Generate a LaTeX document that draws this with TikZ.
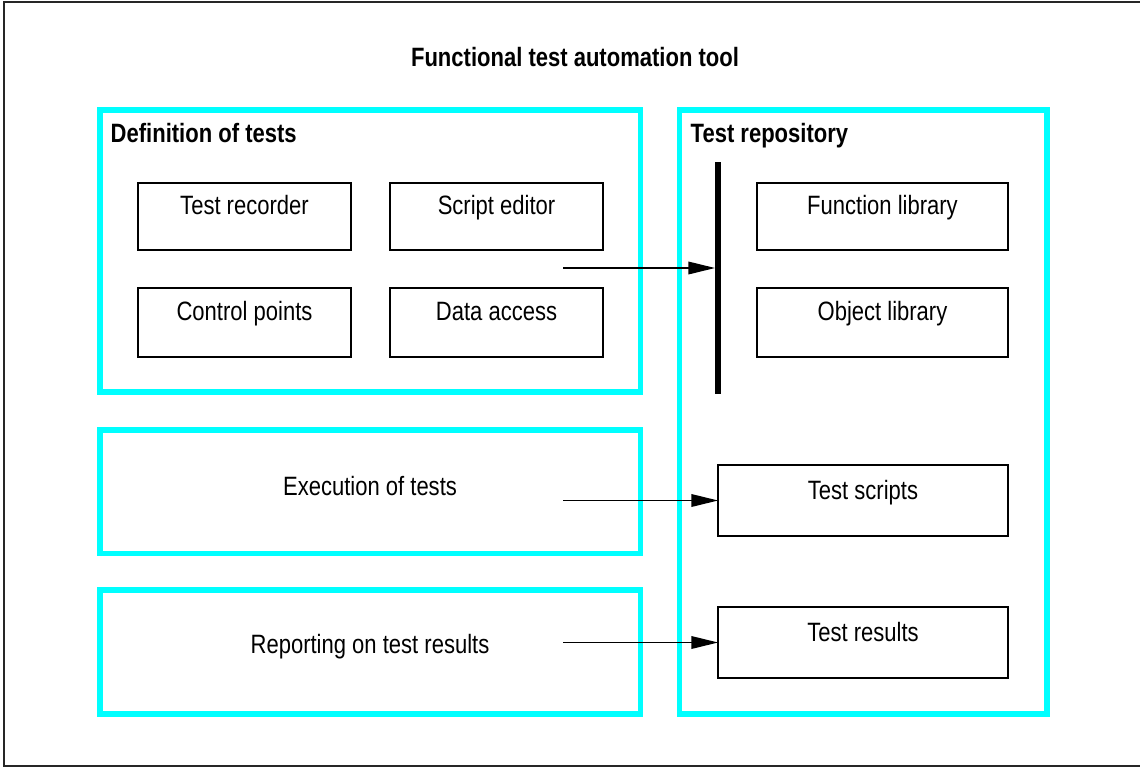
\documentclass[tikz,border=0pt]{standalone}
\usepackage{fontspec}
\setmainfont{Liberation Sans}[FakeStretch=0.83]
\usetikzlibrary{arrows.meta}
\definecolor{areacyan}{RGB}{0,255,255}

\begin{document}
\begin{tikzpicture}[x=0.75pt, y=-0.75pt,
    font=\fontsize{19.9}{22}\selectfont,
    area/.style={draw=areacyan, line width=4pt, inner sep=0pt, outer sep=0pt, anchor=north west},
    box/.style={draw, line width=1.2pt, inner sep=0pt, outer sep=0pt, anchor=north west, text height=23.5pt},
    head/.style={font=\fontsize{19.9}{22}\selectfont\bfseries, anchor=base west},
    arr/.style={-{Triangle[length=20pt, width=9.5pt]}, line width=1pt}]
	\useasboundingbox (0,0) rectangle (1140,768);
	\draw [black!85, line width=1.2pt] (4,2) rectangle (1150,766);
	\node [head, anchor=base] (title) at (575,66.5) {Functional test automation tool};

	% cyan areas
	\node [area, minimum width=405.4pt, minimum height=211.5pt] (def) at (100,110) {};
	\node [area, minimum width=405.4pt, minimum height=92.6pt] (exec) at (100,430) {};
	\node [area, minimum width=405.4pt, minimum height=93pt] (rep) at (100,590) {};
	\node [area, minimum width=275.6pt, minimum height=453pt] (repo) at (679.5,110) {};
	\node [head] (defT) at (106,142.5) {Definition of tests};
	\node [head] (repoT) at (686,142.5) {Test repository};
	\node [anchor=base] (execT) at (370,495.5) {Execution of tests};
	\node [anchor=base] (repT) at (370,653) {Reporting on test results};

	% tools
	\node [box, minimum width=159.75pt, text depth=26.75pt] (rec) at (138,183) {Test recorder};
	\node [box, minimum width=159.75pt, text depth=26.75pt] (edit) at (390,183) {Script editor};
	\node [box, minimum width=159.75pt, text height=24.5pt, text depth=27.25pt] (ctrl) at (138,288) {Control points};
	\node [box, minimum width=159.75pt, text height=24.5pt, text depth=27.25pt] (data) at (390,288) {Data access};

	% repository
	\node [fill, minimum width=4.5pt, minimum height=174pt, inner sep=0pt, outer sep=0pt] (bar) at (718,278) {};
	\node [box, minimum width=188.25pt, text depth=26.75pt] (func) at (757,183) {Function library};
	\node [box, minimum width=188.25pt, text height=24.5pt, text depth=27.25pt] (obj) at (757,288) {Object library};
	\node [box, minimum width=217.5pt, text height=25.5pt, text depth=27.75pt] (scripts) at (718,465) {Test scripts};
	\node [box, minimum width=217.5pt, text height=25.5pt, text depth=27.75pt] (results) at (718,607) {Test results};

	\coordinate (src1) at (563,268);
	\coordinate (src2) at (563,500.5);
	\coordinate (src3) at (563,642.5);
	\draw [arr] (src1) -- (src1 -| bar.west);
	\draw [arr] (src2) -- (src2 -| scripts.west);
	\draw [arr] (src3) -- (src3 -| results.west);
\end{tikzpicture}
\end{document}
